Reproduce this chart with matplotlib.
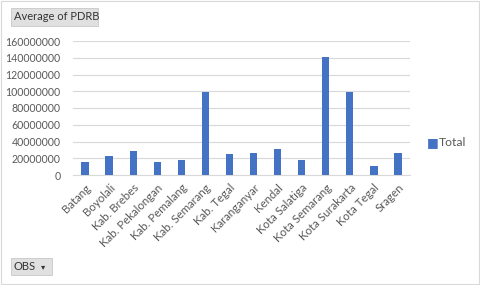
import numpy as np
import matplotlib.pyplot as plt
from matplotlib.patches import Rectangle

# Data
regions = ["Batang", "Boyolali", "Kab. Brebes", "Kab. Pekalongan", "Kab. Pemalang",
           "Kab. Semarang", "Kab. Tegal", "Karanganyar", "Kendal", "Kota Salatiga",
           "Kota Semarang", "Kota Surakarta", "Kota Tegal", "Sragen"]
avg_pdrb = [15200000, 22700000, 28700000, 15900000, 17900000,
            98700000, 25100000, 26300000, 31000000, 17500000,
            141300000, 98700000, 10700000, 26300000]
yticks = np.arange(0, 160000001, 20000000)

plt.rcParams['font.family'] = ['Lato', 'DejaVu Sans']
grey = "#595959"
blue = "#4472c4"

fig = plt.figure(figsize=(4.8, 2.85), dpi=100)
fig.patch.set_facecolor("white")
ax = fig.add_axes([73 / 480, 1 - 175 / 285, (410 - 73) / 480, (175 - 41) / 285])

x = np.arange(len(regions))
ax.bar(x, avg_pdrb, width=0.3, color=blue, zorder=3, label="Total")

ax.set_xlim(-0.5, len(regions) - 0.5)
ax.set_ylim(0, 160000000)
ax.set_yticks(yticks)
ax.set_yticklabels([str(int(v)) for v in yticks], fontsize=7.6, color=grey)
ax.set_xticks(x)
ax.set_xticklabels(regions, rotation=45, ha="right", rotation_mode="anchor",
                   fontsize=8.3, color=grey)
ax.tick_params(axis="y", length=0, pad=9)
ax.tick_params(axis="x", length=0, pad=5)
ax.grid(axis="y", color="#d9d9d9", linewidth=0.8, zorder=0)
for side in ["top", "right", "left"]:
    ax.spines[side].set_visible(False)
ax.spines["bottom"].set_color("#d9d9d9")

# legend on the right
fig.text(433 / 480, 1 - 142 / 285, "\u25A0", color=blue, fontsize=9,
         ha="center", va="center")
fig.text(439 / 480, 1 - 142 / 285, "Total", color=grey, fontsize=8.8, va="center")

# pivot field buttons
fig.patches.append(Rectangle((11 / 480, 1 - 26 / 285), 87 / 480, 18 / 285,
                             transform=fig.transFigure, facecolor="#e0e0e0",
                             edgecolor="#c8c8c8", linewidth=0.6))
fig.text(14 / 480, 1 - 17 / 285, "Average of PDRB", fontsize=8, color="#333333",
         va="center")
fig.patches.append(Rectangle((11 / 480, 1 - 275 / 285), 41 / 480, 17 / 285,
                             transform=fig.transFigure, facecolor="#e0e0e0",
                             edgecolor="#c8c8c8", linewidth=0.6))
fig.text(14 / 480, 1 - 266.5 / 285, "OBS", fontsize=8, color="#333333", va="center")
fig.text(43 / 480, 1 - 266.5 / 285, "\u25BE", fontsize=6, color="#333333",
         va="center", ha="center")

# outer border of chart
fig.patches.append(Rectangle((0.002, 0.004), 0.996, 0.992, transform=fig.transFigure,
                             fill=False, edgecolor="#d9d9d9", linewidth=0.8))

fig.savefig("out.png", dpi=100, facecolor="white")
